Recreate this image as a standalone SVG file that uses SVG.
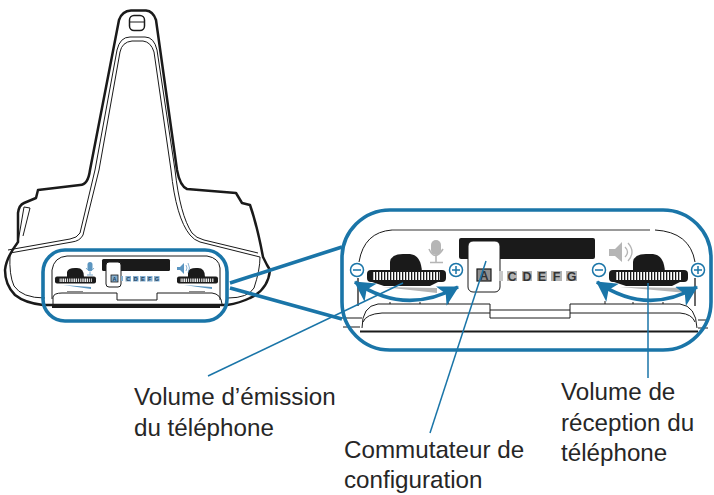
<svg xmlns="http://www.w3.org/2000/svg" width="714" height="495" viewBox="0 0 714 495">
<style>
.o{fill:none;stroke:#1a1a1a;stroke-width:2.500;stroke-linejoin:round}
.t{fill:none;stroke:#1a1a1a;stroke-width:1}
.k{fill:#1a1a1a}
.b{fill:none;stroke:#1a75a8;stroke-width:3.600}
.c{fill:none;stroke:#1a75a8;stroke-width:1.500}
.a{fill:none;stroke:#1a75a8;stroke-width:3.600}
.l{fill:#262626;font-family:"Liberation Sans","Noto Sans",sans-serif;font-size:24.200px}
.g{fill:#333;font-family:"Liberation Sans",sans-serif;font-size:12.500px;font-weight:bold;text-anchor:middle}
.s{fill:#b4b4b4}
.sm{fill:#86aecd}
.sg{fill:#1a3f63;font-family:"Liberation Sans",sans-serif;font-size:5.500px;font-weight:bold;text-anchor:middle}
</style>
<defs>
<marker id="h" markerUnits="userSpaceOnUse" markerWidth="24" markerHeight="24" refX="19" refY="11" orient="auto-start-reverse"><path d="M0 0L20 11L0 22L5 11Z" fill="#1a75a8"/></marker>
<pattern id="r" width="3" height="8" patternUnits="userSpaceOnUse"><rect width="3" height="8" fill="#fff"/><rect width="1.300" height="8" fill="#1a1a1a"/></pattern>
<pattern id="rs" width="2.200" height="4" patternUnits="userSpaceOnUse"><rect width="2.200" height="4" fill="#fff"/><rect width="1" height="4" fill="#1a1a1a"/></pattern>
</defs>
<g id="device">
<path class="o" d="M119 20Q122 11 131 10.500H146Q153 11 156 20L177 170Q180 186 187 189L236 193L242 203L250 205Q257 225 263 257L267 265L270 270Q268 290 250 298Q240 303 227 305H43Q25 303 15 295Q5 285 5 270Q6 258 18 242V213Q19 205 24 203L36 198L38 190L80 185Q88 185 90 170Z"/>
<path class="t" d="M95 170L117 50Q120 37 130 37H145Q154 37 157 50L175 170Q180 215 192 233Q196 238 204 240L258 253"/>
<path class="t" d="M99 170L120 52Q122 42 132 41H143Q151 42 154 52L171 170Q176 218 190 235Q194 240 200 242L260 257"/>
<path class="t" d="M95 170L80 233Q77 238 70 239L8 250"/>
<path class="t" d="M99 170L83 235Q80 241 72 242L10 253"/>
<rect x="129.500" y="15.500" width="15" height="15" rx="4.500" fill="none" stroke="#1a1a1a" stroke-width="1.500"/>
<path class="t" d="M130 22H144"/>
<path class="t" d="M10 255Q9 275 14 286Q22 298 45 298"/>
<path class="t" d="M228 298Q248 298 254 288Q260 270 260 257"/>
<path class="t" d="M18 242L24 207L30 208L23 236"/>
<path class="t" d="M52 299V270Q54 257 67 256H207Q219 258 220 268V300"/>
<path class="k" d="M52 304.500H220V308H52Z"/>
<path class="t" d="M53 304V297Q54 293 62 293H117V300H157V293H212Q221 294 222 304"/>
<rect class="k" x="102" y="259" width="68" height="12" rx="1.500"/>
<rect x="106" y="262" width="15" height="25" rx="3" fill="#fff" stroke="#1a1a1a"/>
<rect x="111" y="275" width="7" height="7" class="sm" stroke="#1a1a1a" stroke-width=".8"/>
<text class="sg" x="114.500" y="280.800">A</text>
<rect class="sm" x="121" y="276" width="2" height="5"/>
<rect class="sm" x="125.500" y="276" width="5.500" height="5.500"/><text class="sg" x="128.300" y="281">C</text>
<rect class="sm" x="133" y="276" width="5.500" height="5.500"/><text class="sg" x="135.800" y="281">D</text>
<rect class="sm" x="140" y="276" width="5.500" height="5.500"/><text class="sg" x="142.800" y="281">E</text>
<rect class="sm" x="147" y="276" width="5.500" height="5.500"/><text class="sg" x="149.800" y="281">F</text>
<rect class="sm" x="154" y="276" width="5.500" height="5.500"/><text class="sg" x="156.800" y="281">G</text>
<path class="k" d="M67 277V272Q68 268 75 268H77Q84 268 84 277Z"/>
<path class="k" d="M188 277V272Q189 268 196 268H198Q205 268 205 277Z"/>
<rect x="55" y="276.500" width="41" height="7" rx="2" class="k"/>
<rect x="59" y="278.500" width="33" height="3.500" fill="url(#rs)"/>
<rect x="177" y="276.500" width="41" height="7" rx="2" class="k"/>
<rect x="180" y="278.500" width="34" height="3.500" fill="url(#rs)"/>
<path d="M63 285L91 287V289Z" fill="#5b95c0"/><path d="M184 285L212 287V289Z" fill="#5b95c0"/>
<rect x="67" y="291" width="16" height="1.200" fill="#888"/><rect x="189" y="291" width="16" height="1.200" fill="#888"/>
<rect x="87.500" y="262" width="5" height="9" rx="2.500" fill="#5b95c0"/>
<path d="M86 268Q90 274 94 268M90 272V274.500M87 275H93" fill="none" stroke="#5b95c0" stroke-width=".8"/>
<path fill="#5b95c0" d="M177 267H180L184 263V274L180 270H177Z"/>
<path d="M186 265Q188 268 186 271M188 263Q191 268 188 273" fill="none" stroke="#5b95c0" stroke-width=".7"/>
</g>
<g id="zoom-panel">
<path class="t" d="M359 262Q364 232 392 230"/>
<path fill="none" stroke="#777" stroke-width="1.500" d="M392 230H650"/>
<path class="t" d="M695 262Q690 232 655 230"/>
<path fill="none" stroke="#1a1a1a" stroke-width="1.300" d="M358 278V306M695 278V306"/>
<path class="t" d="M362 328Q362 306 378 304H490V318H570V304H680Q696 306 697 328"/>
<path class="t" d="M363 322Q366 314 382 313H490M570 313H680Q692 314 695 322"/>
<path class="t" d="M490 310H570"/>
<path class="t" d="M340 318H362M343 327H360M698 320H708M698 328H708"/>
<path class="t" d="M390 302V304M420 302V304M448 301V304M605 301V304M633 302V304M663 302V304"/>
<path fill="none" stroke="#1a1a1a" stroke-width="2.200" d="M360 331.500H698"/>
<path class="k" d="M390 272V262Q391 254 403 254H410Q421 255 422 272Z"/>
<path class="k" d="M633 272V262Q634 254 646 254H653Q664 255 665 272Z"/>
<path class="k" d="M372 282H438L430 286H384Z"/>
<path class="k" d="M614 282H680L672 286H626Z"/>
<rect x="367" y="270" width="79" height="12" rx="4" class="k"/>
<rect x="373" y="272" width="67" height="8" fill="url(#r)"/>
<rect x="609" y="270" width="79" height="12" rx="4" class="k"/>
<rect x="615" y="272" width="67" height="8" fill="url(#r)"/>
<path class="s" d="M383 287L437 288V293Z"/><path class="s" d="M620 287L687 288V293Z"/>
<rect x="431" y="240" width="10" height="15" rx="5" fill="#b5b5b5"/>
<path d="M429 249Q435 262 443 249M436 256V262M430 262.500H443" fill="none" stroke="#b5b5b5" stroke-width="1.600"/>
<path d="M609 249H615L622 242V262L615 256H609Z" fill="#b5b5b5"/>
<path d="M625 247Q630 252 625 257M628 243Q636 252 628 261" fill="none" stroke="#b5b5b5" stroke-width="1.300"/>
<rect class="k" x="459" y="238" width="136" height="21" rx="2"/>
<rect x="468" y="241" width="32" height="51" rx="5" fill="#fff" stroke="#1a1a1a"/>
<rect x="477" y="269" width="14" height="12" fill="#8f8f8f" stroke="#1a1a1a" stroke-width="1.200"/>
<text class="g" x="484" y="280">A</text>
<rect class="s" x="499" y="271" width="4" height="10" style="fill:#c8c8c8"/>
<rect class="s" x="507" y="271" width="10" height="10"/><text class="g" x="512" y="280.500">C</text>
<rect class="s" x="522" y="271" width="10" height="10"/><text class="g" x="527" y="280.500">D</text>
<rect class="s" x="537" y="271" width="10" height="10"/><text class="g" x="542" y="280.500">E</text>
<rect class="s" x="551" y="271" width="11" height="10"/><text class="g" x="556.500" y="280.500">F</text>
<rect class="s" x="566" y="271" width="11" height="10"/><text class="g" x="571.500" y="280.500">G</text>
</g>
<g id="connectors">
<rect class="b" x="43" y="250" width="184" height="71" rx="22"/>
<rect class="b" x="342" y="210" width="369" height="140" rx="48"/>
<path class="b" d="M230 283L342 247M230 288L342 319"/>
<path class="c" d="M403 283L208 376"/>
<path class="c" d="M486 261L430 433"/>
<path class="c" d="M648 283V378"/>
<circle class="c" cx="357" cy="270" r="6.500"/><path class="c" d="M353 270H361"/>
<circle class="c" cx="456" cy="270" r="6.500"/><path class="c" d="M452 270H460M456 266V274"/>
<circle class="c" cx="599" cy="270" r="6.500"/><path class="c" d="M595 270H603"/>
<circle class="c" cx="698" cy="270" r="6.500"/><path class="c" d="M694 270H702M698 266V274"/>
<path class="a" d="M355 282Q405 316 458 287" marker-start="url(#h)" marker-end="url(#h)"/>
<path class="a" d="M597 282Q646 316 697 287" marker-start="url(#h)" marker-end="url(#h)"/>
</g>
<g id="labels">
<text class="l" x="134" y="405">Volume d’émission</text>
<text class="l" x="134" y="436">du téléphone</text>
<text class="l" x="344" y="458">Commutateur de</text>
<text class="l" x="344" y="488">configuration</text>
<text class="l" x="561" y="400">Volume de</text>
<text class="l" x="561" y="431">réception du</text>
<text class="l" x="561" y="461">téléphone</text>
</g>
</svg>
